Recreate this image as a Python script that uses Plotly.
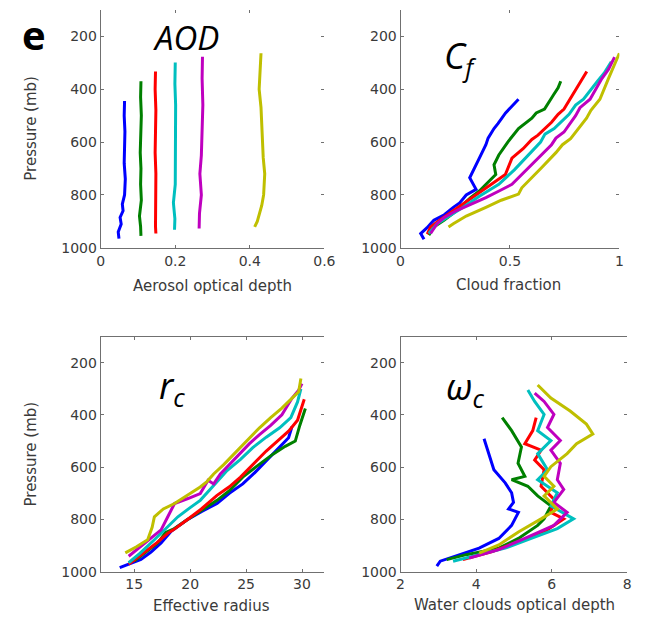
import plotly.graph_objects as go

# Vertical profiles of aerosol / cloud properties, six AOD bins
colors = ["#0000ff", "#008000", "#ff0000", "#00bfbf", "#bf00bf", "#bfbf00"]

# --- Aerosol optical depth profiles
aod_x = [
    [0.064, 0.063, 0.065, 0.064, 0.063, 0.066, 0.064, 0.058, 0.060, 0.052, 0.055, 0.047, 0.049],
    [0.108, 0.107, 0.109, 0.108, 0.106, 0.108, 0.107, 0.109, 0.104, 0.107, 0.108],
    [0.147, 0.146, 0.148, 0.147, 0.146, 0.148, 0.147, 0.146, 0.147, 0.148],
    [0.200, 0.199, 0.201, 0.200, 0.199, 0.200, 0.195, 0.199, 0.198],
    [0.273, 0.272, 0.274, 0.272, 0.270, 0.266, 0.270, 0.265, 0.264],
    [0.430, 0.428, 0.425, 0.430, 0.432, 0.436, 0.440, 0.437, 0.432, 0.427, 0.420, 0.413],
]
aod_p = [
    [445, 500, 560, 620, 680, 740, 800, 835, 860, 885, 910, 940, 965],
    [370, 430, 500, 570, 640, 700, 760, 820, 880, 920, 955],
    [333, 400, 480, 560, 640, 720, 800, 870, 920, 946],
    [299, 380, 460, 560, 660, 760, 830, 890, 932],
    [277, 360, 460, 560, 650, 720, 800, 870, 927],
    [264, 330, 400, 470, 560, 660, 720, 800, 840, 870, 900, 921],
]

# --- Cloud fraction profiles
cf_x = [
    [0.539, 0.50, 0.48, 0.445, 0.427, 0.40, 0.39, 0.36, 0.335, 0.316, 0.345, 0.30, 0.27, 0.241, 0.20, 0.152, 0.12, 0.092, 0.107],
    [0.732, 0.72, 0.70, 0.658, 0.62, 0.60, 0.539, 0.49, 0.449, 0.427, 0.435, 0.39, 0.36, 0.32, 0.256, 0.20, 0.152, 0.129],
    [0.851, 0.82, 0.80, 0.747, 0.72, 0.69, 0.628, 0.60, 0.56, 0.509, 0.479, 0.44, 0.39, 0.31, 0.241, 0.18, 0.137, 0.122],
    [0.963, 0.93, 0.90, 0.836, 0.80, 0.77, 0.702, 0.66, 0.64, 0.583, 0.52, 0.449, 0.36, 0.286, 0.22, 0.167, 0.129],
    [0.978, 0.95, 0.92, 0.866, 0.82, 0.80, 0.747, 0.71, 0.69, 0.628, 0.57, 0.509, 0.45, 0.39, 0.256, 0.20, 0.167, 0.137],
    [1.000, 0.97, 0.95, 0.911, 0.87, 0.85, 0.777, 0.74, 0.71, 0.643, 0.554, 0.539, 0.46, 0.39, 0.30, 0.241, 0.219],
]
cf_p = [
    [438, 470, 490, 530, 549, 585, 610, 661, 700, 735, 779, 800, 830, 847, 875, 896, 925, 946, 968],
    [370, 395, 420, 475, 490, 510, 549, 600, 649, 686, 723, 760, 785, 810, 859, 895, 921, 952],
    [333, 375, 405, 475, 495, 525, 574, 590, 625, 661, 723, 745, 773, 820, 859, 895, 921, 948],
    [296, 340, 370, 438, 460, 495, 549, 570, 600, 649, 705, 760, 805, 847, 880, 909, 946],
    [279, 325, 360, 438, 470, 500, 562, 585, 610, 661, 710, 760, 785, 810, 859, 885, 909, 946],
    [264, 320, 360, 438, 480, 510, 587, 610, 640, 698, 773, 797, 820, 847, 880, 909, 921],
]

# --- Effective radius profiles
re_x = [
    [13.7, 14.6, 15.6, 16.5, 17.4, 18.3, 19.7, 21.0, 22.4, 23.5, 24.7, 25.8, 26.8, 27.8, 28.8, 29.1],
    [15.0, 16.0, 17.1, 17.8, 18.6, 19.7, 21.0, 22.4, 23.5, 24.7, 26.0, 27.4, 28.5, 29.4, 29.8, 30.3],
    [14.5, 15.1, 16.2, 17.0, 18.0, 18.5, 19.7, 21.0, 22.4, 23.5, 24.5, 25.6, 26.8, 27.8, 28.8, 29.6, 30.2],
    [14.5, 15.5, 16.8, 17.8, 18.9, 20.0, 20.9, 22.1, 23.3, 24.5, 25.6, 26.8, 28.0, 29.0, 29.6, 29.9],
    [14.5, 15.6, 16.5, 17.4, 18.0, 18.6, 19.8, 20.9, 21.6, 22.1, 22.7, 23.5, 24.4, 25.3, 26.2, 27.2, 28.2, 29.1, 29.7, 30.0],
    [14.2, 15.2, 16.2, 16.6, 16.8, 17.6, 18.6, 19.8, 20.9, 21.5, 22.1, 23.0, 23.9, 25.0, 26.2, 27.2, 28.2, 29.0, 29.7, 29.9],
]
re_p = [
    [985, 970, 953, 925, 890, 845, 802, 770, 739, 700, 664, 620, 575, 530, 487, 445],
    [960, 925, 890, 850, 835, 802, 765, 727, 690, 638, 595, 550, 520, 500, 440, 375],
    [972, 953, 915, 890, 853, 840, 802, 760, 708, 675, 638, 590, 538, 500, 462, 420, 340],
    [966, 930, 878, 835, 790, 755, 727, 670, 613, 570, 525, 485, 449, 410, 350, 300],
    [941, 903, 870, 840, 790, 739, 720, 701, 650, 664, 626, 590, 550, 510, 475, 440, 399, 336, 305, 280],
    [928, 905, 878, 830, 790, 760, 739, 705, 676, 655, 626, 590, 550, 500, 449, 410, 374, 340, 311, 260],
]

# --- Water cloud optical depth profiles
wc_x = [
    [4.21, 4.34, 4.47, 4.77, 4.94, 4.99, 4.86, 5.12, 4.94, 4.60, 4.08, 3.57, 3.05, 2.96],
    [4.69, 4.94, 5.20, 5.11, 5.29, 4.94, 5.37, 5.63, 5.98, 5.80, 5.63, 5.12, 4.60, 3.74, 3.22],
    [5.59, 5.50, 5.29, 5.72, 5.55, 5.80, 5.72, 6.06, 5.98, 6.32, 5.80, 5.12, 4.43, 3.65],
    [5.37, 5.55, 5.80, 5.63, 5.98, 5.63, 5.89, 5.63, 6.15, 5.98, 6.58, 6.15, 5.46, 4.77, 4.08, 3.39],
    [5.55, 5.80, 6.06, 5.89, 6.23, 5.98, 6.23, 6.15, 6.32, 6.06, 6.41, 6.06, 5.29, 4.60, 3.82],
    [5.63, 5.98, 6.49, 6.92, 7.09, 6.66, 6.41, 5.98, 5.80, 6.06, 5.80, 6.15, 5.72, 5.12, 4.60, 4.08],
]
wc_p = [
    [491, 548, 610, 660, 698, 735, 760, 773, 823, 873, 910, 935, 960, 979],
    [410, 460, 523, 585, 635, 648, 673, 710, 748, 798, 823, 873, 910, 935, 954],
    [410, 460, 510, 535, 573, 610, 673, 723, 773, 798, 848, 885, 923, 954],
    [304, 348, 398, 460, 498, 548, 610, 648, 698, 748, 798, 835, 873, 910, 935, 960],
    [316, 348, 398, 448, 498, 535, 585, 648, 685, 735, 773, 823, 873, 916, 948],
    [285, 335, 385, 435, 473, 510, 548, 598, 635, 673, 710, 760, 798, 848, 898, 929],
]

p_ticks = [200, 400, 600, 800, 1000]
p_range = [1000, 100]

W, H = 646, 628


def px(x):
    return x / W


def py(y):
    return 1 - y / H


panels = [
    # (x values, pressures, x range, x ticks, x domain, y domain)
    (aod_x, aod_p, [0, 0.6], [0, 0.2, 0.4, 0.6], [px(99), px(328)], [py(251), py(10)]),
    (cf_x, cf_p, [0, 1], [0, 0.5, 1], [px(406), px(630)], [py(251), py(10)]),
    (re_x, re_p, [12, 32], [15, 20, 25, 30], [px(99), px(328)], [py(579), py(341)]),
    (wc_x, wc_p, [2, 8], [2, 4, 6, 8], [px(406), px(638)], [py(579), py(341)]),
]

fig = go.Figure()
tick_font = dict(family="DejaVu Sans", size=14, color="#3a3a3a")
axis_color = "#707070"
layout = {}

for i, (xs, ps, xr, xt, xd, yd) in enumerate(panels):
    n = i + 1
    xa = "x" if n == 1 else f"x{n}"
    ya = "y" if n == 1 else f"y{n}"
    xm, ym = f"x{n + 4}", f"y{n + 4}"
    for j in range(6):
        fig.add_trace(go.Scatter(
            x=xs[j], y=ps[j], mode="lines",
            line=dict(color=colors[j], width=3),
            xaxis=xa, yaxis=ya, showlegend=False, hoverinfo="skip",
        ))
    # empty traces so the mirrored axes get drawn
    fig.add_trace(go.Scatter(x=[None], y=[None], xaxis=xa, yaxis=ym,
                             showlegend=False, hoverinfo="skip"))
    fig.add_trace(go.Scatter(x=[None], y=[None], xaxis=xm, yaxis=ya,
                             showlegend=False, hoverinfo="skip"))
    xkey = "xaxis" if n == 1 else f"xaxis{n}"
    ykey = "yaxis" if n == 1 else f"yaxis{n}"
    layout[xkey] = dict(
        domain=xd, anchor=ya, range=xr, tickvals=xt,
        ticktext=[f"{v:g}" for v in xt],
        showline=True, linecolor=axis_color, linewidth=1,
        ticks="inside", ticklen=3, tickcolor=axis_color,
        showgrid=False, zeroline=False, tickfont=tick_font,
    )
    layout[ykey] = dict(
        domain=yd, anchor=xa, range=p_range, tickvals=p_ticks,
        showline=True, linecolor=axis_color, linewidth=1,
        ticks="inside", ticklen=3, tickcolor=axis_color,
        showgrid=False, zeroline=False, tickfont=tick_font,
    )
    # mirrored tick marks on the right and top edges
    layout[f"yaxis{n + 4}"] = dict(
        overlaying=ya, side="right", anchor=xa, range=p_range, tickvals=p_ticks,
        showticklabels=False, showline=False, ticks="inside", ticklen=3,
        tickcolor=axis_color, showgrid=False, zeroline=False,
    )
    layout[f"xaxis{n + 4}"] = dict(
        overlaying=xa, side="top", anchor=ya, range=xr, tickvals=xt,
        showticklabels=False, showline=(n > 2), linecolor=axis_color, linewidth=1,
        ticks="inside", ticklen=3, tickcolor=axis_color,
        showgrid=False, zeroline=False,
    )

title_font = dict(family="DejaVu Sans", size=15, color="#3a3a3a")
big_font = dict(family="Open Sans", size=36, color="black")

annotations = [
    dict(text="<b>e</b>", x=px(31), y=py(35), font=dict(family="Open Sans", size=40, color="black")),
    dict(text="<i>AOD</i>", x=px(186), y=py(38), font=dict(family="Open Sans", size=33, color="black")),
    dict(text="<i>C</i><sub><i>f</i></sub>", x=px(448), y=py(58), xanchor="left", font=big_font),
    dict(text="<i>r</i><sub><i>c</i></sub>", x=px(157), y=py(392), xanchor="left", font=big_font),
    dict(text="<i>ω</i><sub><i>c</i></sub>", x=px(450), y=py(394), xanchor="left", font=big_font),
    dict(text="Pressure (mb)", x=px(28), y=py(130), textangle=-90, font=title_font),
    dict(text="Pressure (mb)", x=px(28), y=py(460), textangle=-90, font=title_font),
    dict(text="Aerosol optical depth", x=px(213), y=py(290), font=title_font),
    dict(text="Cloud fraction", x=px(516), y=py(289), font=title_font),
    dict(text="Effective radius", x=px(212), y=py(614), font=title_font),
    dict(text="Water clouds optical depth", x=px(523), y=py(613), font=title_font),
]
for a in annotations:
    a.setdefault("xanchor", "center")
    a.update(xref="paper", yref="paper", yanchor="middle", showarrow=False)

fig.update_layout(
    width=W, height=H,
    margin=dict(l=0, r=0, t=0, b=0),
    paper_bgcolor="white", plot_bgcolor="white",
    annotations=annotations,
    **layout,
)

fig.write_html("out.html")
